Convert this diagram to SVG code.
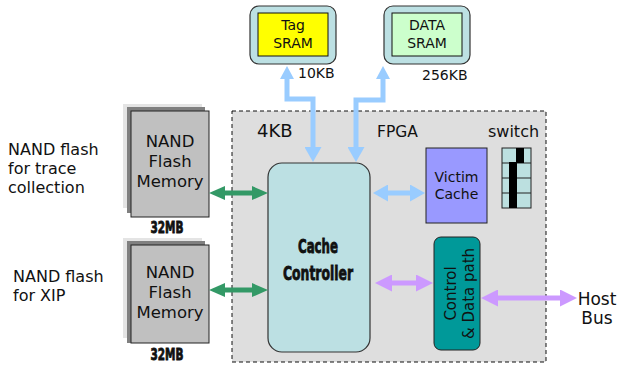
<svg xmlns="http://www.w3.org/2000/svg" width="619" height="368" viewBox="0 0 619 368">
<style>
text{font-family:"DejaVu Sans","Liberation Sans",sans-serif;fill:#111}
.c{text-anchor:middle}
.bold{font-family:"Liberation Sans Narrow","DejaVu Sans Condensed","Liberation Sans",sans-serif;font-weight:bold;text-anchor:middle;stroke:#111;stroke-width:0.8}
.lblue{fill:#bce0e3;stroke:#333;stroke-width:1.2}
.back1{fill:#e4e4e4}
.back2{fill:#808080}
.front{fill:#c0c0c0;stroke:#222;stroke-width:1}
.green{stroke:#339966;stroke-width:5;fill:none}
.blue{stroke:#99ccff;stroke-width:5;fill:none}
.purple{stroke:#cc99ff;stroke-width:5;fill:none}
</style>
<defs>
<marker id="mg" markerUnits="userSpaceOnUse" markerWidth="16" markerHeight="14" viewBox="0 0 16 14" refX="2" refY="7" orient="auto-start-reverse"><path d="M0,0 L16,7 L0,14 z" fill="#339966"/></marker>
<marker id="mbs" markerUnits="userSpaceOnUse" markerWidth="13" markerHeight="14" viewBox="0 0 13 14" refX="2" refY="7" orient="auto-start-reverse"><path d="M0,0 L13,7 L0,14 z" fill="#99ccff"/></marker>
<marker id="mbl" markerUnits="userSpaceOnUse" markerWidth="15" markerHeight="17" viewBox="0 0 15 17" refX="2" refY="8.5" orient="auto-start-reverse"><path d="M0,0 L15,8.5 L0,17 z" fill="#99ccff"/></marker>
<marker id="mp" markerUnits="userSpaceOnUse" markerWidth="17" markerHeight="17" viewBox="0 0 17 17" refX="2" refY="8.5" orient="auto-start-reverse"><path d="M0,0 L17,8.5 L0,17 z" fill="#cc99ff"/></marker>
</defs>

<g id="fpga">
<rect x="232" y="111" width="314" height="251" fill="#dedede" stroke="#111" stroke-width="1" stroke-dasharray="4,3"/>
<text x="257" y="137" font-size="18">4KB</text>
<text x="377" y="137" font-size="15.5">FPGA</text>
</g>

<g id="tag-sram">
<rect class="lblue" x="250" y="6" width="86" height="58" rx="9"/>
<rect x="258" y="13" width="70" height="43" fill="#ffff00" stroke="#111" stroke-width="1"/>
<text class="c" x="293" y="30" font-size="14">Tag</text>
<text class="c" x="293" y="48" font-size="14">SRAM</text>
<text x="298" y="78" font-size="14">10KB</text>
</g>

<g id="data-sram">
<rect class="lblue" x="384" y="6" width="86" height="58" rx="9"/>
<rect x="392" y="13" width="70" height="43" fill="#ccffcc" stroke="#111" stroke-width="1"/>
<text class="c" x="427" y="30" font-size="14">DATA</text>
<text class="c" x="427" y="48" font-size="14">SRAM</text>
<text x="422" y="80" font-size="14">256KB</text>
</g>

<g id="nand1">
<rect class="back1" x="123" y="104" width="79" height="104"/>
<rect class="back2" x="127" y="107" width="78" height="106"/>
<rect class="front" x="131" y="111" width="78" height="106"/>
<text class="c" x="170" y="147" font-size="16.5">NAND</text>
<text class="c" x="170" y="167" font-size="16.5">Flash</text>
<text class="c" x="170" y="187" font-size="16.5">Memory</text>
<text class="bold" x="167" y="233" font-size="16" textLength="33" lengthAdjust="spacingAndGlyphs">32MB</text>
</g>

<g id="nand2">
<rect class="back1" x="123" y="238" width="79" height="100"/>
<rect class="back2" x="127" y="241" width="78" height="102"/>
<rect class="front" x="131" y="245" width="78" height="98"/>
<text class="c" x="170" y="278" font-size="16.5">NAND</text>
<text class="c" x="170" y="298" font-size="16.5">Flash</text>
<text class="c" x="170" y="318" font-size="16.5">Memory</text>
<text class="bold" x="167" y="360" font-size="16" textLength="33" lengthAdjust="spacingAndGlyphs">32MB</text>
</g>

<g id="label-trace">
<text x="8" y="155" font-size="16">NAND flash</text>
<text x="8" y="174" font-size="16">for trace</text>
<text x="8" y="193" font-size="16">collection</text>
</g>

<g id="label-xip">
<text x="13" y="282" font-size="16">NAND flash</text>
<text x="13" y="301" font-size="16">for XIP</text>
</g>

<g id="cache-controller">
<rect class="lblue" x="268" y="163" width="102" height="189" rx="14"/>
<text class="bold" x="318" y="253" font-size="20" textLength="40" lengthAdjust="spacingAndGlyphs">Cache</text>
<text class="bold" x="318" y="280" font-size="20" textLength="70" lengthAdjust="spacingAndGlyphs">Controller</text>
</g>

<g id="victim-cache">
<rect x="426" y="148" width="61" height="75" fill="#9999ff" stroke="#222" stroke-width="1"/>
<text class="c" x="456.5" y="182" font-size="14">Victim</text>
<text class="c" x="456.5" y="199" font-size="14">Cache</text>
</g>

<g id="switch">
<text x="488" y="137" font-size="16">switch</text>
<rect x="502" y="148" width="29" height="60" fill="#bce0e0" stroke="#222" stroke-width="1"/>
<path d="M502,163 H531 M502,178 H531 M502,193 H531" stroke="#222" stroke-width="1"/>
<rect x="516" y="148" width="8" height="15" fill="#000"/>
<rect x="509" y="162" width="8" height="46" fill="#000"/>
</g>

<g id="control-datapath">
<rect x="434" y="237" width="46" height="113" rx="7" fill="#009999" stroke="#222" stroke-width="1"/>
<text class="c" transform="translate(457,293.5) rotate(-90)" x="0" y="-1" font-size="15">Control</text>
<text class="c" transform="translate(457,293.5) rotate(-90)" x="0" y="17" font-size="15">&amp; Data path</text>
</g>

<g id="host-bus">
<text class="c" x="597" y="305" font-size="17">Host</text>
<text class="c" x="597" y="324" font-size="17">Bus</text>
</g>

<g id="connectors">
<path class="blue" d="M287,77 V99 H313 V149" marker-start="url(#mbs)" marker-end="url(#mbl)"/>
<path class="blue" d="M356,149 V100 H383 V77" marker-start="url(#mbl)" marker-end="url(#mbs)"/>
<path class="blue" d="M386,193 H412" marker-start="url(#mbl)" marker-end="url(#mbl)"/>
<path class="green" d="M223,193 H254" marker-start="url(#mg)" marker-end="url(#mg)"/>
<path class="green" d="M223,290 H254" marker-start="url(#mg)" marker-end="url(#mg)"/>
<path class="purple" d="M390,283 H418" marker-start="url(#mp)" marker-end="url(#mp)"/>
<path class="purple" d="M496,298 H562" marker-start="url(#mp)" marker-end="url(#mp)"/>
</g>
</svg>
